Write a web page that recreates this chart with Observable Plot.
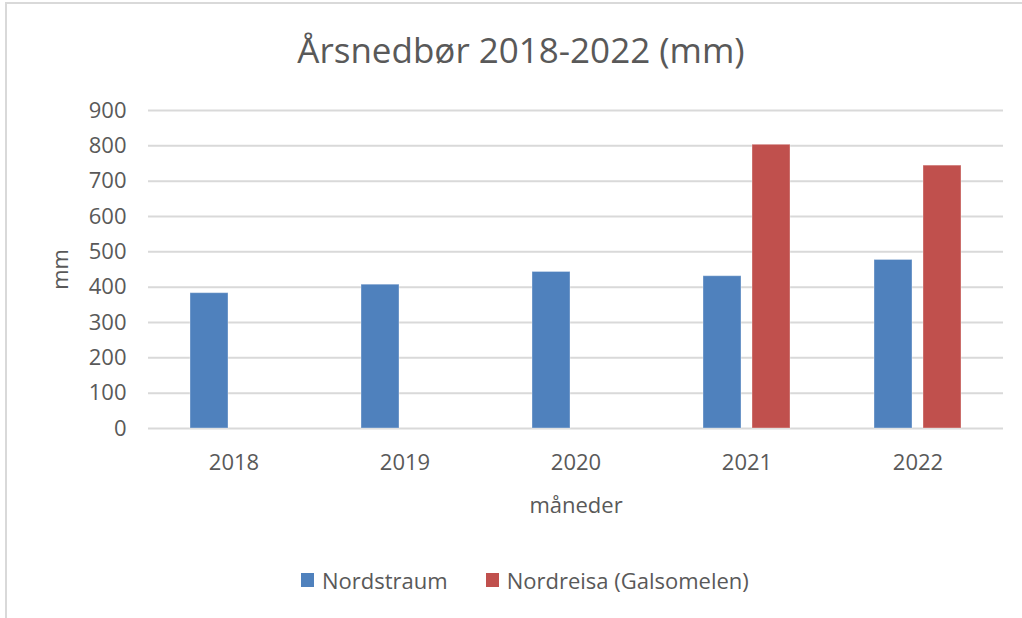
<!DOCTYPE html>
<html>
<head>
<meta charset="utf-8">
<script src="https://cdn.jsdelivr.net/npm/d3@7"></script>
<script src="https://cdn.jsdelivr.net/npm/@observablehq/plot@0.6"></script>
<style>
  html, body { margin: 0; padding: 0; background: #ffffff; }
  #chart { position: relative; width: 1022px; height: 618px; overflow: hidden; font-family: "Open Sans", sans-serif; color: #595959; }
  #frame { position: absolute; left: 5px; top: 2px; width: 1030px; height: 640px; border-top: 2px solid #d9d9d9; border-left: 2px solid #d9d9d9; box-sizing: border-box; }
  #title { position: absolute; left: 0; top: 32px; width: 1042px; text-align: center; font-size: 35px; line-height: 35px; white-space: nowrap; }
  #plot { position: absolute; left: 0; top: 90px; }
  #legend { position: absolute; left: 301px; top: 569px; display: flex; align-items: center; font-size: 22px; line-height: 22px; white-space: nowrap; }
  .item { display: flex; align-items: center; }
  .swatch { width: 13px; height: 14px; margin-right: 8px; }
  .item + .item { margin-left: 38px; }
</style>
</head>
<body>
<div id="chart">
  <div id="frame"></div>
  <div id="title">Årsnedbør 2018-2022 (mm)</div>
  <div id="plot"></div>
  <div id="legend"></div>
</div>
<script>
const years = ["2018", "2019", "2020", "2021", "2022"];
const series = ["Nordstraum", "Nordreisa (Galsomelen)"];
const nordstraum = [383, 407, 443, 431, 477];
const nordreisa = [null, null, null, 803, 744];
const colors = ["#4f81bd", "#c0504d"];
const yTicks = [0, 100, 200, 300, 400, 500, 600, 700, 800, 900];
const xLabel = "måneder";
const yLabel = "mm";

const values = [nordstraum, nordreisa];
const data = [];
years.forEach((yr, i) => {
  series.forEach((s, j) => {
    const v = values[j][i];
    if (v != null) data.push({year: yr, series: s, value: v});
  });
});

const chart = Plot.plot({
  width: 1022,
  height: 440,
  marginLeft: 147,
  marginRight: 19,
  marginTop: 20,
  marginBottom: 102,
  style: {fontFamily: "Open Sans, sans-serif", fontSize: "22px", color: "#595959", background: "transparent"},
  fx: {domain: years, padding: 0, label: null},
  x: {type: "band", domain: series, paddingInner: 0.22, paddingOuter: 0.843, axis: null},
  y: {domain: [0, 900], label: null},
  color: {domain: series, range: colors},
  marks: [
    Plot.gridY(yTicks, {stroke: "#d9d9d9", strokeOpacity: 1, strokeWidth: 2}),
    Plot.barY(data, {fx: "year", x: "series", y: "value", fill: "series", stroke: "#ffffff", strokeOpacity: 0.35, strokeWidth: 1}),
    Plot.axisY(yTicks, {tickSize: 0, tickPadding: 22, label: yLabel, labelAnchor: "center", labelArrow: false, labelOffset: 96, fill: "#595959"}),
    Plot.axisFx({anchor: "bottom", tickSize: 0, tickPadding: 26, label: xLabel, labelAnchor: "center", labelArrow: false, labelOffset: 84, fill: "#595959"})
  ]
});
document.getElementById("plot").appendChild(chart);

const legend = document.getElementById("legend");
series.forEach((s, i) => {
  const item = document.createElement("div");
  item.className = "item";
  const sw = document.createElement("span");
  sw.className = "swatch";
  sw.style.background = colors[i];
  const tx = document.createElement("span");
  tx.textContent = s;
  item.appendChild(sw);
  item.appendChild(tx);
  legend.appendChild(item);
});
</script>
</body>
</html>
